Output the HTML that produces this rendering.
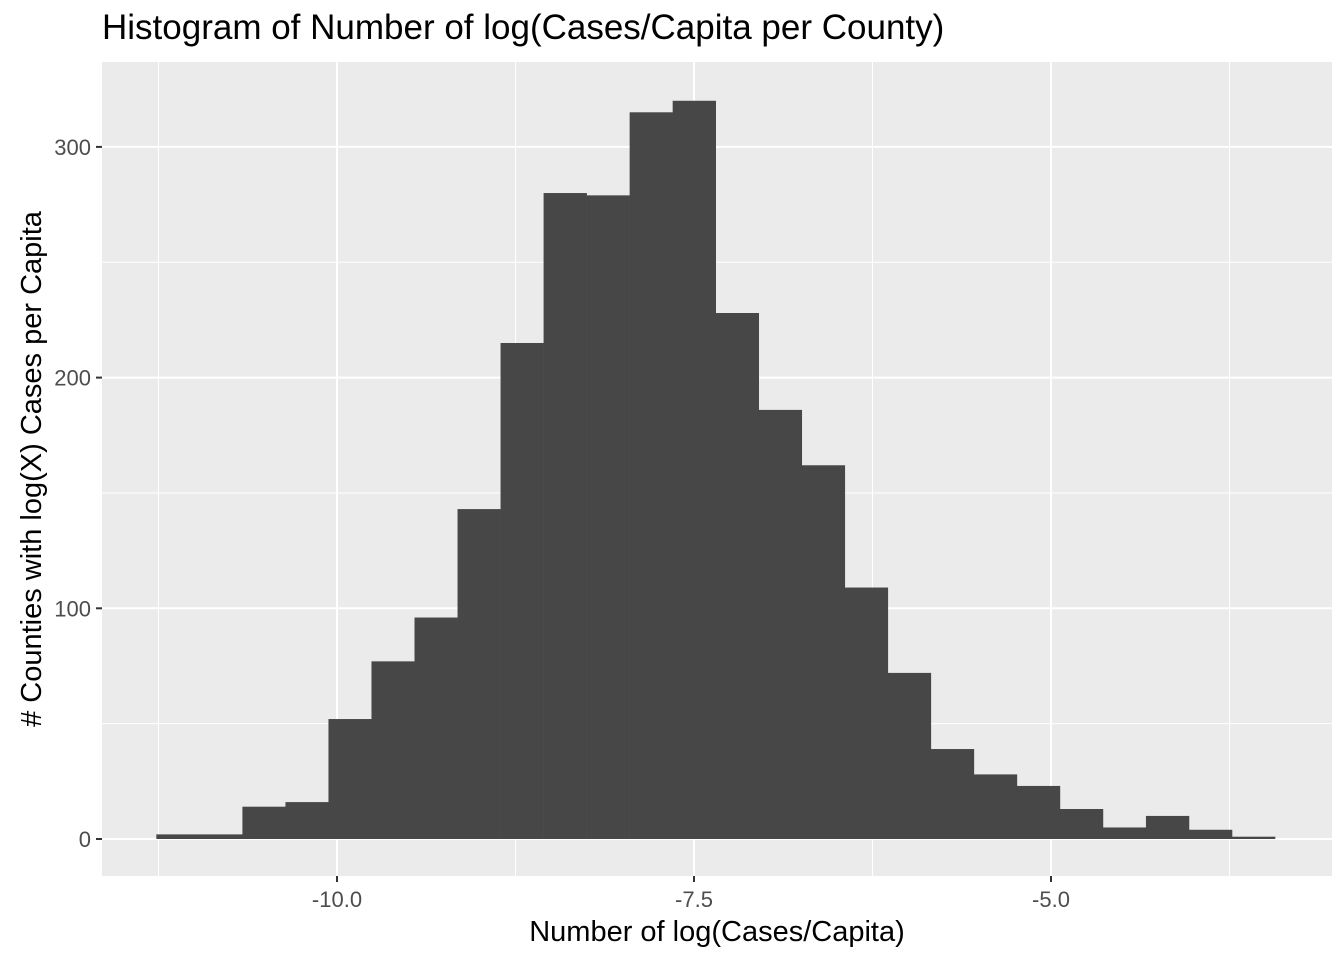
<!DOCTYPE html>
<html><head><meta charset="utf-8"><style>
body{margin:0;background:#fff;}
svg text{font-family:"Liberation Sans",Arial,sans-serif;}
</style></head><body>
<svg id="chart" width="1344" height="960" viewBox="0 0 1344 960" xmlns="http://www.w3.org/2000/svg">
<rect x="0" y="0" width="1344" height="960" fill="#fff"/>
<text x="102" y="39" font-size="35" fill="#000">Histogram of Number of log(Cases/Capita per County)</text>
<rect x="102" y="62" width="1230" height="814" fill="#ebebeb"/>
<g id="grid"></g>
<g id="bars"></g>
<g id="axes"></g>
<text x="717" y="941" font-size="29" text-anchor="middle" fill="#000">Number of log(Cases/Capita)</text>
<text transform="translate(41,469) rotate(-90)" font-size="29" text-anchor="middle" fill="#000"># Counties with log(X) Cases per Capita</text>
</svg>
<script>
const binStart = -11.265;
const binWidth = 0.3013;
const counts = [2,2,14,16,52,77,96,143,215,280,279,315,320,228,186,162,109,72,39,28,23,13,5,10,4,1];
const xTicks = [-10,-7.5,-5];
const xTickLabels = ["-10.0","-7.5","-5.0"];
const xMinor = [-11.25,-8.75,-6.25,-3.75];
const yTicks = [0,100,200,300];
const yMinor = [50,150,250];

const NS="http://www.w3.org/2000/svg";
const P={l:102,r:1332,t:62,b:876};
function xs(v){return 337+(v+10)*142.8;}
function ys(v){return 839-v*2.307;}
function mk(tag,attrs,parent){const e=document.createElementNS(NS,tag);for(const k in attrs)e.setAttribute(k,attrs[k]);parent.appendChild(e);return e;}
const grid=document.getElementById('grid'),bars=document.getElementById('bars'),axes=document.getElementById('axes');
yMinor.forEach(v=>{const l=mk('line',{x1:P.l,x2:P.r,y1:ys(v),y2:ys(v),stroke:'#fff','stroke-width':1},grid);

});
xMinor.forEach(v=>{const l=mk('line',{x1:xs(v),x2:xs(v),y1:P.t,y2:P.b,stroke:'#fff','stroke-width':1},grid);

});
yTicks.forEach(v=>{const l=mk('line',{x1:P.l,x2:P.r,y1:ys(v),y2:ys(v),stroke:'#fff','stroke-width':2},grid);


const t=mk('line',{x1:P.l-6,x2:P.l,y1:ys(v),y2:ys(v),stroke:'#333','stroke-width':2},axes);


const tx=mk('text',{x:P.l-11,y:ys(v)+8,'font-size':22,'text-anchor':'end',fill:'#4d4d4d'},axes);
tx.textContent=String(v);

});
xTicks.forEach((v,i)=>{const l=mk('line',{x1:xs(v),x2:xs(v),y1:P.t,y2:P.b,stroke:'#fff','stroke-width':2},grid);


const t=mk('line',{x1:xs(v),x2:xs(v),y1:P.b,y2:P.b+6,stroke:'#333','stroke-width':2},axes);


const tx=mk('text',{x:xs(v),y:P.b+31,'font-size':22,'text-anchor':'middle',fill:'#4d4d4d'},axes);
tx.textContent=xTickLabels[i];

});
counts.forEach((c,i)=>{const x0=xs(binStart+i*binWidth),x1=xs(binStart+(i+1)*binWidth);
const r=mk('rect',{x:x0,y:ys(c),width:x1-x0+0.3,height:ys(0)-ys(c),fill:'#474747'},bars);

});
</script>
</body></html>
